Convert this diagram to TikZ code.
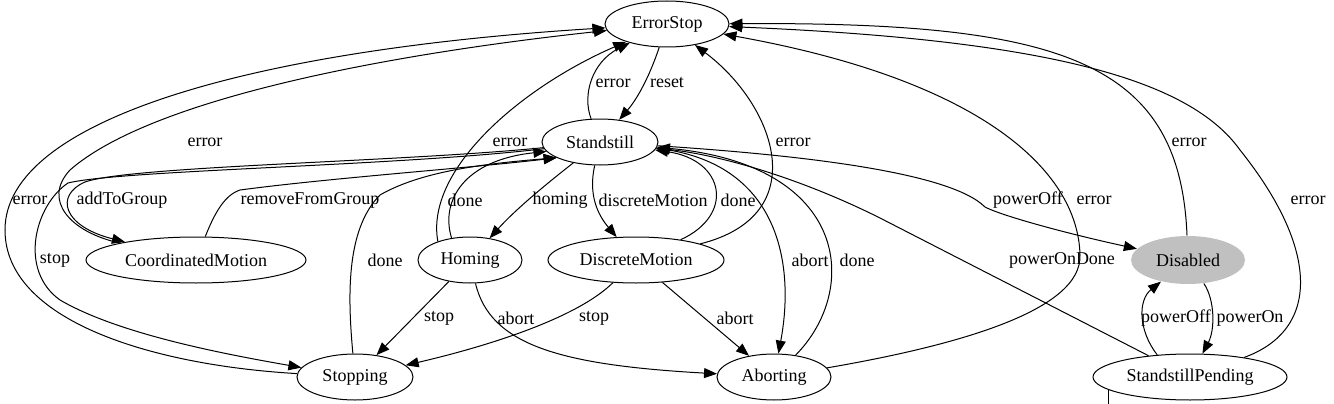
\documentclass[tikz,border=0pt]{standalone}
\usepackage{fontspec}
\setmainfont{Liberation Serif}
\usetikzlibrary{shapes.geometric,arrows.meta}
\definecolor{offgray}{HTML}{C0C0C0}
\begin{document}
\begin{tikzpicture}[x=1pt,y=-1pt,
		font=\fontsize{18}{20}\selectfont,
		state/.style={ellipse, draw, line width=1pt, inner sep=0pt, minimum height=46pt},
		trans/.style={line width=1pt, -{Triangle[length=13pt,width=10pt]}},
		lbl/.style={inner sep=0pt}]
		\useasboundingbox (0,0) rectangle (1334,404);

		\node[state, minimum width=124pt] (es) at (667,24) {ErrorStop};
		\node[state, minimum width=116pt] (ss) at (600,142) {Standstill};
		\node[state, minimum width=104pt] (hm) at (470,260) {Homing};
		\node[state, minimum width=176pt] (dm) at (636,260) {DiscreteMotion};
		\node[state, minimum width=220pt] (cm) at (196,260) {CoordinatedMotion};
		\node[state, minimum width=116pt] (sp) at (355,377) {Stopping};
		\node[state, minimum width=114pt] (ab) at (774,377) {Aborting};
		\node[state, draw=none, fill=offgray, minimum width=114pt, minimum height=48pt] (di) at (1188,260) {Disabled};
		\node[state, minimum width=194pt] (pd) at (1190,377) {StandstillPending};
		\coordinate (bot) at (0,404);

		\draw[trans] (es) .. controls (650,75) and (638,98) .. (ss);
		\draw[trans] (ss) .. controls (582,95) and (592,62) .. (es);
		\draw[trans] (ss) .. controls (545,185) and (515,210) .. (hm);
		\draw[trans] (ss) .. controls (588,195) and (598,215) .. (dm);
		\draw[trans] (dm) .. controls (735,215) and (725,160) .. (ss);
		\draw[trans] (dm) .. controls (815,215) and (775,105) .. (es);
		\draw[trans] (hm.130) .. controls (440,200) and (465,160) .. (ss.190);
		\draw[trans] (hm.150) .. controls (425,170) and (520,88) .. (es);
		\draw[trans] (hm) -- (sp);
		\draw[trans] (hm) .. controls (490,345) and (560,365) .. (ab);
		\draw[trans] (dm) .. controls (575,320) and (480,348) .. (sp);
		\draw[trans] (dm) -- (ab);
		\draw[trans] (ss) .. controls (780,162) and (795,265) .. (ab);
		\draw[trans] (ab) .. controls (860,290) and (850,165) .. (ss);
		\draw[trans] (ab) .. controls (960,345) and (1082,310) .. (1080,255) .. controls (1078,170) and (980,80) .. (es);
		\draw[trans] (ss) .. controls (800,155) and (950,172) .. (985,207) .. controls (1000,215) and (1060,232) .. (di);
		\draw[trans] (pd) -- (880,218) .. controls (800,178) and (720,155) .. (ss);
		\draw[trans] (di) .. controls (1180,60) and (1060,22) .. (es);
		\draw[trans] (pd) .. controls (1320,330) and (1320,250) .. (1240,150) .. controls (1190,80) and (1050,40) .. (es);
		\draw[trans] (pd.146) .. controls (1138,330) and (1138,300) .. (di);
		\draw[trans] (di) .. controls (1215,300) and (1215,330) .. (pd);
		\draw[trans] (ss) .. controls (400,162) and (130,166) .. (85,182) .. controls (55,195) and (62,226) .. (cm);
		\draw[trans] (ss) .. controls (400,166) and (120,170) .. (68,183) .. controls (35,205) and (18,270) .. (60,300) .. controls (120,335) and (230,355) .. (sp);
		\draw[trans] (cm) .. controls (70,232) and (42,200) .. (70,170) .. controls (150,100) and (380,55) .. (es);
		\draw[trans] (sp) .. controls (150,365) and (5,320) .. (5,230) .. controls (5,120) and (250,50) .. (es);
		\draw[trans] (cm) .. controls (215,212) and (225,195) .. (240,190) .. controls (330,178) and (470,168) .. (ss.200);
		\draw[trans] (sp) .. controls (348,300) and (345,230) .. (380,195) .. controls (420,172) and (480,164) .. (ss.200);
		\draw[line width=1pt] (pd.189) -- (pd.189 |- bot);

		\node[lbl] (lreset) at (667,83) {reset};
		\node[lbl] (lerrss) at (613,83) {error};
		\node[lbl] (lerrcm) at (205,142) {error};
		\node[lbl] (lerrhm) at (510,142) {error};
		\node[lbl] (lerrdm) at (793,142) {error};
		\node[lbl] (lerrdi) at (1189,142) {error};
		\node[lbl] (lerrsp) at (30,200) {error};
		\node[lbl] (ladd) at (122,200) {addToGroup};
		\node[lbl] (lremove) at (310,200) {removeFromGroup};
		\node[lbl] (ldonehm) at (465,200) {done};
		\node[lbl] (lhoming) at (560,200) {homing};
		\node[lbl] (ldiscrete) at (653,200) {discreteMotion};
		\node[lbl] (ldonedm) at (738,200) {done};
		\node[lbl] (loffss) at (1028,200) {powerOff};
		\node[lbl] (lerrab) at (1094,200) {error};
		\node[lbl] (lerrpd) at (1308,200) {error};
		\node[lbl] (lstopss) at (55,260) {stop};
		\node[lbl] (ldonesp) at (385,260) {done};
		\node[lbl] (labortss) at (810,260) {abort};
		\node[lbl] (ldoneab) at (857,260) {done};
		\node[lbl] (lpowerdone) at (1062,260) {powerOnDone};
		\node[lbl] (lstophm) at (439,318) {stop};
		\node[lbl] (laborthm) at (516,318) {abort};
		\node[lbl] (lstopdm) at (594,318) {stop};
		\node[lbl] (labortdm) at (735,318) {abort};
		\node[lbl] (loffpd) at (1176,318) {powerOff};
		\node[lbl] (lon) at (1250,318) {powerOn};
	\end{tikzpicture}
\end{document}
